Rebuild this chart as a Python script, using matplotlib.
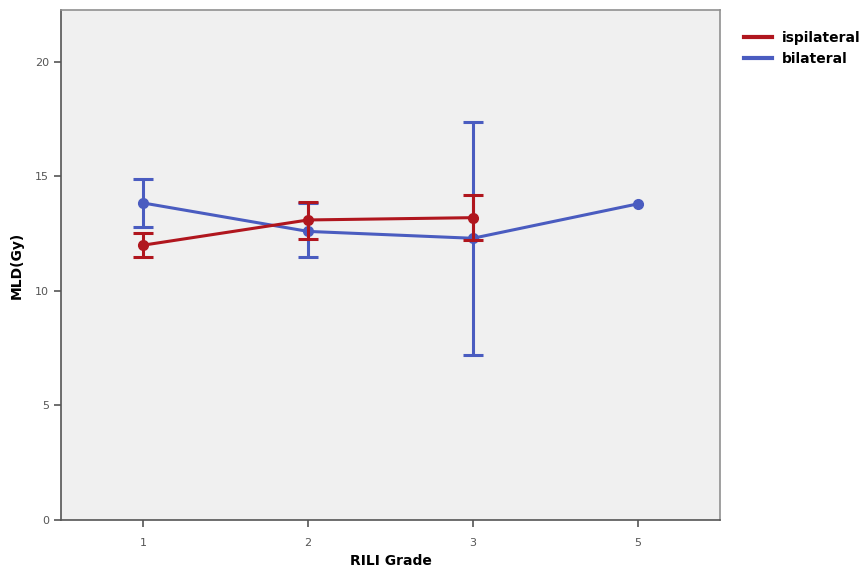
import matplotlib
matplotlib.use("Agg")
import matplotlib.pyplot as plt
import numpy as np

categories = ["1", "2", "3", "5"]
ipsi_mean = [12.0, 13.1, 13.2]
ipsi_low = [11.5, 12.27, 12.23]
ipsi_high = [12.53, 13.9, 14.2]
bi_mean = [13.84, 12.6, 12.3, 13.8]
bi_low = [12.8, 11.48, 7.2, np.nan]
bi_high = [14.9, 13.86, 17.38, np.nan]

red = "#b0161e"
blue = "#4a5cc0"

fig = plt.figure(figsize=(8.66, 5.75), dpi=100)
ax = fig.add_axes([0.0704, 0.0957, 0.7610, 0.887])
ax.set_facecolor("#f0f0f0")

xi = np.arange(len(ipsi_mean))
xb = np.arange(len(bi_mean))

def draw(x, m, lo, hi, c, label):
    m = np.array(m, dtype=float); lo = np.array(lo, dtype=float); hi = np.array(hi, dtype=float)
    ax.plot(x, m, color=c, lw=2.2, marker="o", markersize=7, label=label, zorder=3)
    ok = ~np.isnan(lo)
    ax.errorbar(x[ok], m[ok], yerr=[m[ok] - lo[ok], hi[ok] - m[ok]], fmt="none", ecolor=c,
                elinewidth=2.2, capsize=7, capthick=2.2, zorder=3)

draw(xb, bi_mean, bi_low, bi_high, blue, "bilateral")
draw(xi, ipsi_mean, ipsi_low, ipsi_high, red, "ispilateral")

ax.set_xlim(-0.5, 3.5)
ax.set_ylim(0, 22.27)
ax.set_xticks(xb)
ax.set_xticklabels(categories)
ax.set_yticks([0, 5, 10, 15, 20])
for s in ax.spines.values():
    s.set_color("#909090")
    s.set_linewidth(1.2)
ax.spines["bottom"].set_color("#555555")
ax.spines["left"].set_color("#555555")
ax.tick_params(axis="both", colors="#555555", labelcolor="#555555", labelsize=8, length=5, width=1.2)
ax.tick_params(axis="x", pad=8)
ax.set_xlabel("RILI Grade", fontsize=10, fontweight="bold", labelpad=4)
ax.set_ylabel("MLD(Gy)", fontsize=10, fontweight="bold", labelpad=8)

from matplotlib.lines import Line2D
handles = [Line2D([0], [0], color=red, lw=3), Line2D([0], [0], color=blue, lw=3)]
fig.legend(handles, ["ispilateral", "bilateral"], loc="upper left",
           bbox_to_anchor=(0.845, 0.968), frameon=False,
           prop={"weight": "bold", "size": 10}, handlelength=2.0,
           handletextpad=0.7, labelspacing=0.5)

fig.savefig("out.png", dpi=100)
